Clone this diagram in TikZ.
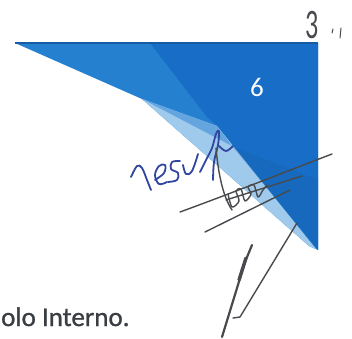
\documentclass[tikz,border=0pt]{standalone}
\usepackage{fontspec}
\setmainfont{Carlito}
\usepackage{xcolor}
\usetikzlibrary{positioning}

\definecolor{panelblue}{RGB}{38,128,208}
\definecolor{deepblue}{RGB}{24,110,198}
\definecolor{paleblue}{RGB}{160,202,236}
\definecolor{midblue}{RGB}{100,165,224}
\definecolor{edgeblue}{RGB}{22,92,165}
\definecolor{pengray}{RGB}{72,74,78}
\definecolor{inkblue}{RGB}{50,70,160}
\definecolor{textgray}{RGB}{58,62,66}

\begin{document}
\begin{tikzpicture}[
    x=1pt, y=-1pt,   % pixel grid, origin top left
    pen/.style = {draw=pengray, line width=1.4pt, line cap=round, line join=round},
    ink/.style = {draw=inkblue, line width=1.8pt, line cap=round, line join=round},
    big/.style = {font=\fontsize{#1}{#1}\selectfont}
  ]
    \useasboundingbox[fill=white] (0,0) rectangle (352,338);

    % blue corner
    \fill[panelblue] (15,43) -- (318,43) -- (318,250) -- (309,246) -- (142,99) -- cycle;
    \fill[deepblue] (150,43) -- (318,43) -- (318,250) -- (217,126) -- (207,117) -- cycle;
    \fill[paleblue] (142,99) -- (217,126) -- (316,249) -- (309,246) -- cycle;
    \fill[midblue] (142,99) -- (217,126) -- (232,146) -- cycle;
    \fill[deepblue!85!black, opacity=0.3] (232,146) -- (318,180) -- (318,250) -- cycle;
    \draw[edgeblue, line width=1.4pt] (15,43) -- (318,43);

    \node[big=27, text=white] (six) at (257,87) {6};
    \node[big=42, xscale=0.62, text=pengray] (three) at (312,25) {3};
    \node[big=27, text=textgray, anchor=base west, inner sep=0pt] (interno) at (1,326) {\addfontfeature{FakeBold=1}olo Interno.};

    % marks after the page number
    \draw[pen, line width=1pt] (333,29) -- (332,33);
    \draw[pen, line width=1pt] (341,28) -- (340,38);

    % blue handwriting
    \draw[ink] plot[smooth, tension=0.6] coordinates {(131,177) (137,166) (142,168) (147,180) (151,190)};
    \draw[ink] plot[smooth, tension=0.6] coordinates {(155,180) (164,173) (165,165) (159,166) (155,175) (159,184) (167,182)};
    \draw[ink] plot[smooth, tension=0.6] coordinates {(180,161) (172,162) (171,169) (178,173) (177,180) (168,182)};
    \draw[ink] plot[smooth, tension=0.6] coordinates {(183,165) (186,174) (192,171) (198,154)};
    \draw[ink] plot[smooth, tension=0.6] coordinates {(200,172) (206,160) (212,148) (216,134) (219,131) (218,145) (214,162) (213,180)};
    \draw[ink] plot[smooth, tension=0.6] coordinates {(219,146) (226,151) (233,146)};

    % gray signature across the corner
    \draw[pen] (216,148) .. controls (218,170) and (222,195) .. (232,210);
    \draw[pen] (180,212) .. controls (240,190) and (290,170) .. (332,154);
    \draw[pen] (205,232) -- (290,190);
    \draw[pen] (226,200) -- (302,176);
    \draw[pen] plot[smooth, tension=0.5] coordinates {(228,194) (232,207) (239,201) (236,191) (241,189) (245,201) (251,194) (248,187) (254,185) (258,197) (263,190) (267,185)};

    % second signature below
    \draw[pen, line width=2.2pt] (222,337) -- (245,262) -- (252,245);
    \draw[pen, line width=3.4pt] (239,280) -- (246,258);
    \draw[pen] (233,318) -- (240,317) -- (297,223);

  \end{tikzpicture}
\end{document}
